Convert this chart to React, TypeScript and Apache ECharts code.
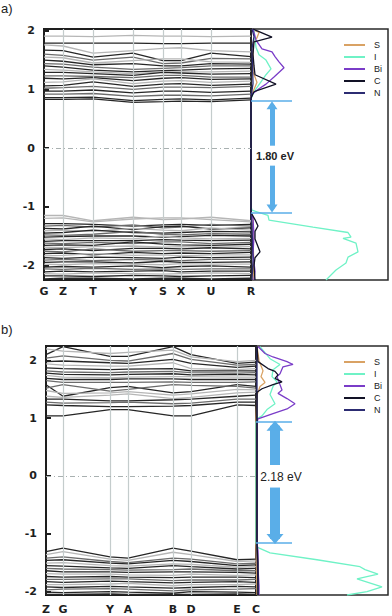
import React, { useEffect, useRef } from "react";
import * as echarts from "echarts";

// ---------- k-paths ----------
const kLabelsA = ["G", "Z", "T", "Y", "S", "X", "U", "R"];
const kPathA = [0, 0.19, 0.49, 0.89, 1.19, 1.37, 1.67, 2.07];
const kLabelsB = ["Z", "G", "Y", "A", "B", "D", "E", "C"];
const kPathB = [0, 0.17, 0.64, 0.82, 1.27, 1.45, 1.91, 2.1];
const energyTicks = [-2, -1, 0, 1, 2];

// ---------- panel a bands (energies at k-points, eV) ----------
const condA = [
  [1.91, 1.91, 1.9, 1.92, 1.91, 1.91, 1.9, 1.91],
  [1.79, 1.79, 1.79, 1.79, 1.78, 1.78, 1.79, 1.79],
  [1.76, 1.74, 1.62, 1.66, 1.7, 1.71, 1.66, 1.64],
  [1.67, 1.66, 1.55, 1.62, 1.49, 1.49, 1.62, 1.56],
  [1.6, 1.58, 1.5, 1.55, 1.44, 1.45, 1.53, 1.52],
  [1.55, 1.54, 1.45, 1.49, 1.52, 1.52, 1.47, 1.46],
  [1.5, 1.48, 1.42, 1.44, 1.4, 1.4, 1.44, 1.43],
  [1.44, 1.43, 1.38, 1.34, 1.36, 1.37, 1.4, 1.4],
  [1.4, 1.38, 1.33, 1.3, 1.32, 1.33, 1.35, 1.36],
  [1.34, 1.33, 1.3, 1.27, 1.3, 1.3, 1.3, 1.31],
  [1.29, 1.29, 1.27, 1.24, 1.29, 1.28, 1.26, 1.27],
  [1.23, 1.23, 1.22, 1.2, 1.24, 1.24, 1.21, 1.21],
  [1.19, 1.18, 1.2, 1.15, 1.19, 1.2, 1.17, 1.18],
  [1.12, 1.13, 1.18, 1.1, 1.14, 1.15, 1.12, 1.14],
  [1.06, 1.07, 1.13, 1.05, 1.09, 1.1, 1.07, 1.09],
  [1.02, 1.03, 1.05, 1.0, 1.04, 1.04, 1.03, 1.05],
  [0.97, 0.97, 0.99, 0.94, 0.97, 0.97, 0.95, 0.97],
  [0.92, 0.92, 0.93, 0.88, 0.9, 0.9, 0.89, 0.92],
  [0.86, 0.86, 0.87, 0.81, 0.83, 0.84, 0.82, 0.85],
  [0.83, 0.83, 0.84, 0.78, 0.79, 0.8, 0.79, 0.82],
];
const valA = [
  [-1.15, -1.15, -1.24, -1.18, -1.22, -1.21, -1.18, -1.24],
  [-1.2, -1.19, -1.26, -1.21, -1.19, -1.19, -1.22, -1.26],
  [-1.29, -1.29, -1.3, -1.33, -1.31, -1.3, -1.32, -1.3],
  [-1.33, -1.32, -1.35, -1.31, -1.36, -1.35, -1.3, -1.33],
  [-1.37, -1.38, -1.33, -1.39, -1.34, -1.33, -1.38, -1.36],
  [-1.41, -1.4, -1.42, -1.37, -1.4, -1.41, -1.36, -1.4],
  [-1.45, -1.44, -1.4, -1.44, -1.45, -1.44, -1.42, -1.43],
  [-1.48, -1.49, -1.47, -1.42, -1.47, -1.48, -1.46, -1.47],
  [-1.52, -1.51, -1.5, -1.5, -1.52, -1.51, -1.49, -1.5],
  [-1.55, -1.56, -1.53, -1.55, -1.5, -1.53, -1.55, -1.54],
  [-1.59, -1.58, -1.58, -1.58, -1.56, -1.57, -1.58, -1.57],
  [-1.62, -1.63, -1.61, -1.63, -1.6, -1.6, -1.63, -1.61],
  [-1.66, -1.65, -1.66, -1.6, -1.64, -1.65, -1.66, -1.64],
  [-1.69, -1.7, -1.68, -1.67, -1.69, -1.68, -1.69, -1.68],
  [-1.73, -1.72, -1.75, -1.71, -1.71, -1.72, -1.7, -1.72],
  [-1.76, -1.77, -1.72, -1.76, -1.75, -1.75, -1.76, -1.75],
  [-1.8, -1.79, -1.82, -1.78, -1.8, -1.79, -1.8, -1.78],
  [-1.84, -1.83, -1.8, -1.83, -1.82, -1.84, -1.82, -1.82],
  [-1.87, -1.88, -1.86, -1.87, -1.88, -1.86, -1.87, -1.86],
  [-1.91, -1.9, -1.92, -1.9, -1.91, -1.92, -1.9, -1.9],
  [-1.95, -1.94, -1.94, -1.96, -1.93, -1.95, -1.95, -1.94],
  [-1.98, -1.99, -1.97, -1.98, -1.99, -1.97, -1.98, -1.98],
  [-2.03, -2.02, -2.03, -2.01, -2.04, -2.02, -2.01, -2.03],
  [-2.06, -2.07, -2.05, -2.07, -2.06, -2.07, -2.06, -2.06],
  [-2.11, -2.1, -2.11, -2.1, -2.09, -2.11, -2.1, -2.1],
  [-2.14, -2.15, -2.13, -2.14, -2.15, -2.14, -2.13, -2.14],
  [-2.18, -2.18, -2.19, -2.17, -2.18, -2.19, -2.18, -2.17],
  [-2.23, -2.22, -2.22, -2.23, -2.22, -2.22, -2.23, -2.22],
];

// ---------- panel b bands ----------
const condB = [
  [2.1, 2.24, 2.07, 2.07, 2.24, 2.1, 1.95, 1.97],
  [2.2, 2.16, 2.12, 2.14, 2.18, 2.06, 1.98, 2.0],
  [2.04, 2.08, 2.0, 1.99, 2.12, 2.02, 1.92, 1.93],
  [1.98, 1.99, 1.96, 1.95, 2.02, 1.95, 1.88, 1.9],
  [1.94, 1.92, 1.9, 1.9, 1.96, 1.86, 1.84, 1.86],
  [1.87, 1.86, 1.84, 1.85, 1.86, 1.82, 1.82, 1.82],
  [1.82, 1.8, 1.79, 1.8, 1.81, 1.79, 1.78, 1.79],
  [1.78, 1.76, 1.75, 1.76, 1.77, 1.75, 1.76, 1.75],
  [1.74, 1.71, 1.7, 1.71, 1.72, 1.72, 1.71, 1.71],
  [1.69, 1.67, 1.67, 1.68, 1.68, 1.67, 1.67, 1.67],
  [1.65, 1.62, 1.62, 1.62, 1.63, 1.62, 1.62, 1.63],
  [1.58, 1.38, 1.53, 1.55, 1.44, 1.46, 1.58, 1.55],
  [1.52, 1.58, 1.47, 1.5, 1.58, 1.57, 1.55, 1.52],
  [1.48, 1.43, 1.44, 1.46, 1.4, 1.42, 1.5, 1.49],
  [1.38, 1.36, 1.4, 1.42, 1.34, 1.36, 1.44, 1.45],
  [1.33, 1.33, 1.3, 1.3, 1.32, 1.33, 1.38, 1.4],
  [1.28, 1.26, 1.27, 1.28, 1.25, 1.26, 1.33, 1.33],
  [1.23, 1.22, 1.2, 1.2, 1.21, 1.22, 1.28, 1.28],
  [1.04, 1.04, 1.15, 1.15, 1.04, 1.04, 1.23, 1.22],
];
const valB = [
  [-1.31, -1.25, -1.4, -1.42, -1.25, -1.3, -1.45, -1.44],
  [-1.36, -1.31, -1.44, -1.46, -1.32, -1.36, -1.48, -1.47],
  [-1.42, -1.4, -1.48, -1.5, -1.42, -1.44, -1.52, -1.51],
  [-1.46, -1.45, -1.51, -1.52, -1.46, -1.48, -1.55, -1.54],
  [-1.51, -1.5, -1.55, -1.56, -1.52, -1.53, -1.58, -1.57],
  [-1.55, -1.56, -1.59, -1.6, -1.55, -1.57, -1.61, -1.6],
  [-1.6, -1.61, -1.62, -1.63, -1.62, -1.61, -1.64, -1.64],
  [-1.64, -1.66, -1.66, -1.67, -1.66, -1.66, -1.67, -1.68],
  [-1.69, -1.7, -1.7, -1.71, -1.72, -1.7, -1.72, -1.71],
  [-1.74, -1.75, -1.74, -1.75, -1.76, -1.75, -1.75, -1.76],
  [-1.79, -1.79, -1.78, -1.78, -1.81, -1.8, -1.8, -1.79],
  [-1.83, -1.84, -1.82, -1.83, -1.85, -1.84, -1.83, -1.84],
  [-1.88, -1.88, -1.87, -1.86, -1.9, -1.88, -1.88, -1.87],
  [-1.92, -1.93, -1.91, -1.92, -1.94, -1.93, -1.91, -1.92],
  [-1.97, -1.96, -1.95, -1.96, -1.99, -1.97, -1.96, -1.95],
  [-2.01, -2.02, -2.0, -2.01, -2.03, -2.0, -2.01, -2.02],
  [-2.05, -2.05, -2.04, -2.05, -2.05, -2.05, -2.04, -2.05],
];

// ---------- DOS curves: [density (arb.), energy (eV)] ----------
const dosA_S = [[2, 2.02], [8, 1.97], [6, 1.88], [2, 1.8], [2, 1.3], [6, 1.12], [3, 1.0], [0, 0.88], [0, -1.1], [2, -1.2], [2, -1.6], [3, -2.0], [2, -2.25]];
const dosA_I = [[3, 2.03], [4, 1.85], [5, 1.72], [8, 1.59], [15, 1.5], [20, 1.35], [15, 1.25], [10, 1.13], [5, 1.01], [2, 0.92], [0, 0.84], [0, -1.0], [1, -1.06], [17, -1.15], [18, -1.23], [62, -1.35], [97, -1.44], [100, -1.52], [92, -1.54], [105, -1.62], [107, -1.77], [97, -1.86], [95, -1.96], [85, -2.08], [75, -2.25]];
const dosA_Bi = [[2, 2.03], [5, 1.84], [11, 1.69], [21, 1.64], [24, 1.56], [28, 1.47], [33, 1.37], [23, 1.21], [15, 1.09], [8, 1.01], [1, 0.92], [0, 0.84], [0, -1.1], [2, -1.2], [3, -1.5], [2, -1.8], [4, -2.1], [3, -2.25]];
const dosA_C = [[2, 2.03], [21, 1.89], [3, 1.81], [2, 1.6], [3, 1.4], [4, 1.25], [25, 1.09], [3, 0.96], [0, 0.85], [0, -1.1], [4, -1.22], [7, -1.33], [4, -1.42], [4, -1.55], [9, -1.77], [4, -1.87], [3, -2.0], [4, -2.25]];
const dosA_N = [[1, 2.03], [3, 1.9], [1, 1.7], [2, 1.1], [0, 0.86], [0, -1.1], [1, -1.3], [2, -1.9], [1, -2.25]];

const dosB_S = [[1, 2.24], [3, 2.0], [7, 1.82], [5, 1.72], [9, 1.62], [4, 1.55], [1, 1.4], [0, 1.0], [0, -1.2], [1, -2.06]];
const dosB_I = [[4, 2.24], [14, 2.03], [24, 1.93], [17, 1.84], [16, 1.72], [21, 1.63], [17, 1.55], [14, 1.41], [19, 1.25], [11, 1.15], [6, 1.04], [1, 0.99], [0, 0.92], [0, -1.15], [1, -1.23], [14, -1.33], [61, -1.45], [104, -1.57], [109, -1.62], [122, -1.7], [101, -1.78], [126, -1.92], [111, -2.0], [91, -2.06]];
const dosB_Bi = [[2, 2.24], [9, 2.12], [17, 2.06], [31, 1.98], [37, 1.93], [27, 1.89], [24, 1.77], [21, 1.72], [26, 1.49], [22, 1.43], [31, 1.34], [39, 1.25], [31, 1.16], [17, 1.08], [2, 0.99], [1, 0.92], [1, -1.15], [2, -1.3], [2, -1.6], [3, -1.9], [3, -2.06]];
const dosB_C = [[1, 2.24], [2, 1.98], [12, 1.86], [19, 1.81], [22, 1.75], [19, 1.69], [26, 1.63], [17, 1.58], [6, 1.51], [1, 1.45], [1, 1.0], [1, -1.2], [2, -1.5], [2, -2.06]];
const dosB_N = [[1, 2.24], [1, 1.5], [1, 0.9], [1, -1.2], [2, -2.06]];

const gapA = ["1.80 eV"];
const gapB = ["2.18 eV"];
const legendNames = ["S", "I", "Bi", "C", "N"];

// ---------- styles (kept separate from data) ----------
const shadePalette = ["#262626", "#6c6c6c", "#b6b6b6"];
const shadeCondA = [2, 0, 2, 0, 1, 2, 0, 1, 0, 2, 0, 1, 0, 2, 0, 1, 0, 1, 0, 0];
const shadeValA = [2, 2, 0, 1, 0, 2, 0, 1, 0, 2, 0, 1, 0, 2, 0, 1, 0, 2, 0, 1, 0, 2, 0, 1, 0, 2, 0, 0];
const shadeCondB = [0, 2, 1, 0, 2, 0, 1, 0, 2, 0, 1, 0, 1, 2, 2, 0, 1, 0, 0];
const shadeValB = [0, 2, 1, 0, 2, 0, 1, 0, 2, 0, 1, 0, 2, 0, 1, 0, 0];
const dosColors: Record<string, string> = {
  S: "#d9a264",
  I: "#6ff2c6",
  Bi: "#7a3cc8",
  C: "#121226",
  N: "#2c2c72",
};
const arrowColor = "#5aaee8";
const labelFont = "DejaVu Sans";

function bandSeries(bands: number[][], shades: number[], kPath: number[], idx: number) {
  return bands.map((b, i) => ({
    type: "line",
    xAxisIndex: idx,
    yAxisIndex: idx,
    symbol: "none",
    silent: true,
    z: 2,
    data: b.map((e, j) => [kPath[j], e]),
    lineStyle: { color: shadePalette[shades[i]], width: 1.3 },
  }));
}

function dosSeries(curves: Record<string, number[][]>, idx: number) {
  return ["S", "I", "Bi", "N", "C"].map((n) => ({
    type: "line",
    name: n,
    xAxisIndex: idx,
    yAxisIndex: idx,
    symbol: "none",
    showSymbol: false,
    silent: true,
    z: 3,
    data: curves[n],
    lineStyle: { color: dosColors[n], width: 1.3 },
    itemStyle: { color: dosColors[n] },
  }));
}

function helperLines(kPath: number[], idx: number) {
  return [
    {
      type: "line",
      xAxisIndex: idx,
      yAxisIndex: idx,
      symbol: "none",
      silent: true,
      z: 4,
      data: [[kPath[0], 0]],
      markLine: {
        silent: true,
        symbol: "none",
        animation: false,
        label: { show: false },
        lineStyle: { color: "#c4cccc", width: 1.2, type: "solid" },
        data: kPath.slice(1, -1).map((x) => ({ xAxis: x })),
      },
    },
    {
      type: "line",
      xAxisIndex: idx,
      yAxisIndex: idx,
      symbol: "none",
      silent: true,
      z: 5,
      data: [[kPath[0], 0]],
      markLine: {
        silent: true,
        symbol: "none",
        animation: false,
        label: { show: false },
        lineStyle: { color: "#a8b0b0", width: 1, type: [5, 3, 1, 3] },
        data: [{ yAxis: 0 }],
      },
    },
  ];
}

function gapAnnotation(idx: number, x: number, lineEnd: number, top: number, bottom: number, upEnd: number, downStart: number, shaft: number, head: number[]) {
  const ht = 0.07;
  return {
    type: "line",
    xAxisIndex: idx,
    yAxisIndex: idx,
    symbol: "none",
    silent: true,
    z: 5,
    data: [[0, 0]],
    lineStyle: { width: 0 },
    markLine: {
      silent: true,
      animation: false,
      label: { show: false },
      symbol: "none",
      lineStyle: { color: arrowColor, width: 1.5, type: "solid" },
      data: [
        [{ coord: [0, top] }, { coord: [lineEnd, top] }],
        [{ coord: [0, bottom] }, { coord: [lineEnd, bottom] }],
        [
          { coord: [x, top - ht], symbol: "triangle", symbolSize: head, lineStyle: { width: shaft, color: arrowColor, type: "solid" } },
          { coord: [x, upEnd], symbol: "none" },
        ],
        [
          { coord: [x, downStart], symbol: "none", lineStyle: { width: shaft, color: arrowColor, type: "solid" } },
          { coord: [x, bottom + ht], symbol: "triangle", symbolSize: head },
        ],
      ],
    },
  };
}

function bandAxes(kPath: number[], labels: string[], idx: number, yMin: number, yMax: number, labelMargin: number) {
  const x = {
    type: "value",
    gridIndex: idx,
    min: kPath[0],
    max: kPath[kPath.length - 1],
    axisLine: { show: true, onZero: false, lineStyle: { color: "#1e1e1e", width: 2 } },
    axisTick: { show: false },
    splitLine: { show: false },
    axisLabel: {
      customValues: kPath,
      margin: labelMargin,
      color: "#1e1e1e",
      fontFamily: labelFont,
      fontWeight: "bold",
      fontSize: 11,
      formatter: (v: number) => {
        let best = 0;
        kPath.forEach((k, i) => {
          if (Math.abs(k - v) < Math.abs(kPath[best] - v)) best = i;
        });
        return labels[best];
      },
    },
  };
  const y = {
    type: "value",
    gridIndex: idx,
    min: yMin,
    max: yMax,
    axisLine: { show: true, onZero: false, lineStyle: { color: "#1e1e1e", width: 2 } },
    axisTick: { show: true, inside: true, length: 5, lineStyle: { color: "#1e1e1e", width: 2 }, customValues: energyTicks },
    splitLine: { show: false },
    axisLabel: {
      customValues: energyTicks,
      margin: 9,
      color: "#1e1e1e",
      fontFamily: labelFont,
      fontWeight: "bold",
      fontSize: 11,
    },
  };
  return { x, y };
}

export default function App() {
  const ref = useRef<HTMLDivElement>(null);
  useEffect(() => {
    if (!ref.current) return;
    const chart = echarts.init(ref.current, null, { renderer: "svg" });
    const yA = [-2.25, 2.03];
    const yB = [-2.06, 2.25];
    const axA = bandAxes(kPathA, kLabelsA, 0, yA[0], yA[1], 6);
    const axB = bandAxes(kPathB, kLabelsB, 2, yB[0], yB[1], 9);
    const dosX = (idx: number, max: number) => ({
      type: "value", gridIndex: idx, min: 0, max, show: false,
    });
    const dosY = (idx: number, mn: number, mx: number) => ({
      type: "value", gridIndex: idx, min: mn, max: mx, show: false,
    });
    const legendBase = {
      data: legendNames,
      orient: "vertical",
      left: 339,
      icon: "rect",
      itemWidth: 21,
      itemHeight: 2,
      itemGap: 2,
      selectedMode: false,
      textStyle: { fontSize: 9, lineHeight: 10, color: "#222", fontFamily: "Liberation Sans", padding: [0, 0, 0, 4] },
    };
    const option = {
      animation: false,
      backgroundColor: "#ffffff",
      grid: [
        { left: 44, top: 29, width: 207, height: 251, show: true, borderColor: "#1e1e1e", borderWidth: 2 },
        { left: 251, top: 29, width: 137, height: 251, show: true, borderColor: "#2a2a2a", borderWidth: 1.5 },
        { left: 46, top: 346, width: 210, height: 249, show: true, borderColor: "#1e1e1e", borderWidth: 2 },
        { left: 256, top: 346, width: 132, height: 249, show: true, borderColor: "#2a2a2a", borderWidth: 1.5 },
      ],
      xAxis: [axA.x, dosX(1, 137), axB.x, dosX(3, 132)],
      yAxis: [axA.y, dosY(1, yA[0], yA[1]), axB.y, dosY(3, yB[0], yB[1])],
      legend: [
        { ...legendBase, top: 35 },
        { ...legendBase, top: 352 },
      ],
      graphic: [
        { type: "text", left: 1, top: 2, style: { text: "a)", font: '13px "Liberation Sans"', fill: "#222" } },
        { type: "text", left: 1, top: 323, style: { text: "b)", font: '13px "Liberation Sans"', fill: "#222" } },
        { type: "text", x: 275, y: 156, style: { text: gapA[0], font: 'bold 11px "Liberation Sans"', fill: "#222", align: "center", verticalAlign: "middle" } },
        { type: "text", x: 281, y: 477, style: { text: gapB[0], font: '12px "Liberation Sans"', fill: "#222", align: "center", verticalAlign: "middle" } },
      ],
      series: [
        ...bandSeries(condA, shadeCondA, kPathA, 0),
        ...bandSeries(valA, shadeValA, kPathA, 0),
        ...helperLines(kPathA, 0),
        ...dosSeries({ S: dosA_S, I: dosA_I, Bi: dosA_Bi, C: dosA_C, N: dosA_N }, 1),
        gapAnnotation(1, 21, 41, 0.8, -1.1, 0.04, -0.3, 5, [11, 8]),
        ...bandSeries(condB, shadeCondB, kPathB, 2),
        ...bandSeries(valB, shadeValB, kPathB, 2),
        ...helperLines(kPathB, 2),
        ...dosSeries({ S: dosB_S, I: dosB_I, Bi: dosB_Bi, C: dosB_C, N: dosB_N }, 3),
        gapAnnotation(3, 19, 36, 0.94, -1.16, 0.19, -0.2, 10, [17, 10]),
      ],
    };
    chart.setOption(option as any);
    return () => chart.dispose();
  }, []);
  return (
    <div
      ref={ref}
      style={{ position: "fixed", left: 0, top: 0, width: 392, height: 616, background: "#fff" }}
    />
  );
}
